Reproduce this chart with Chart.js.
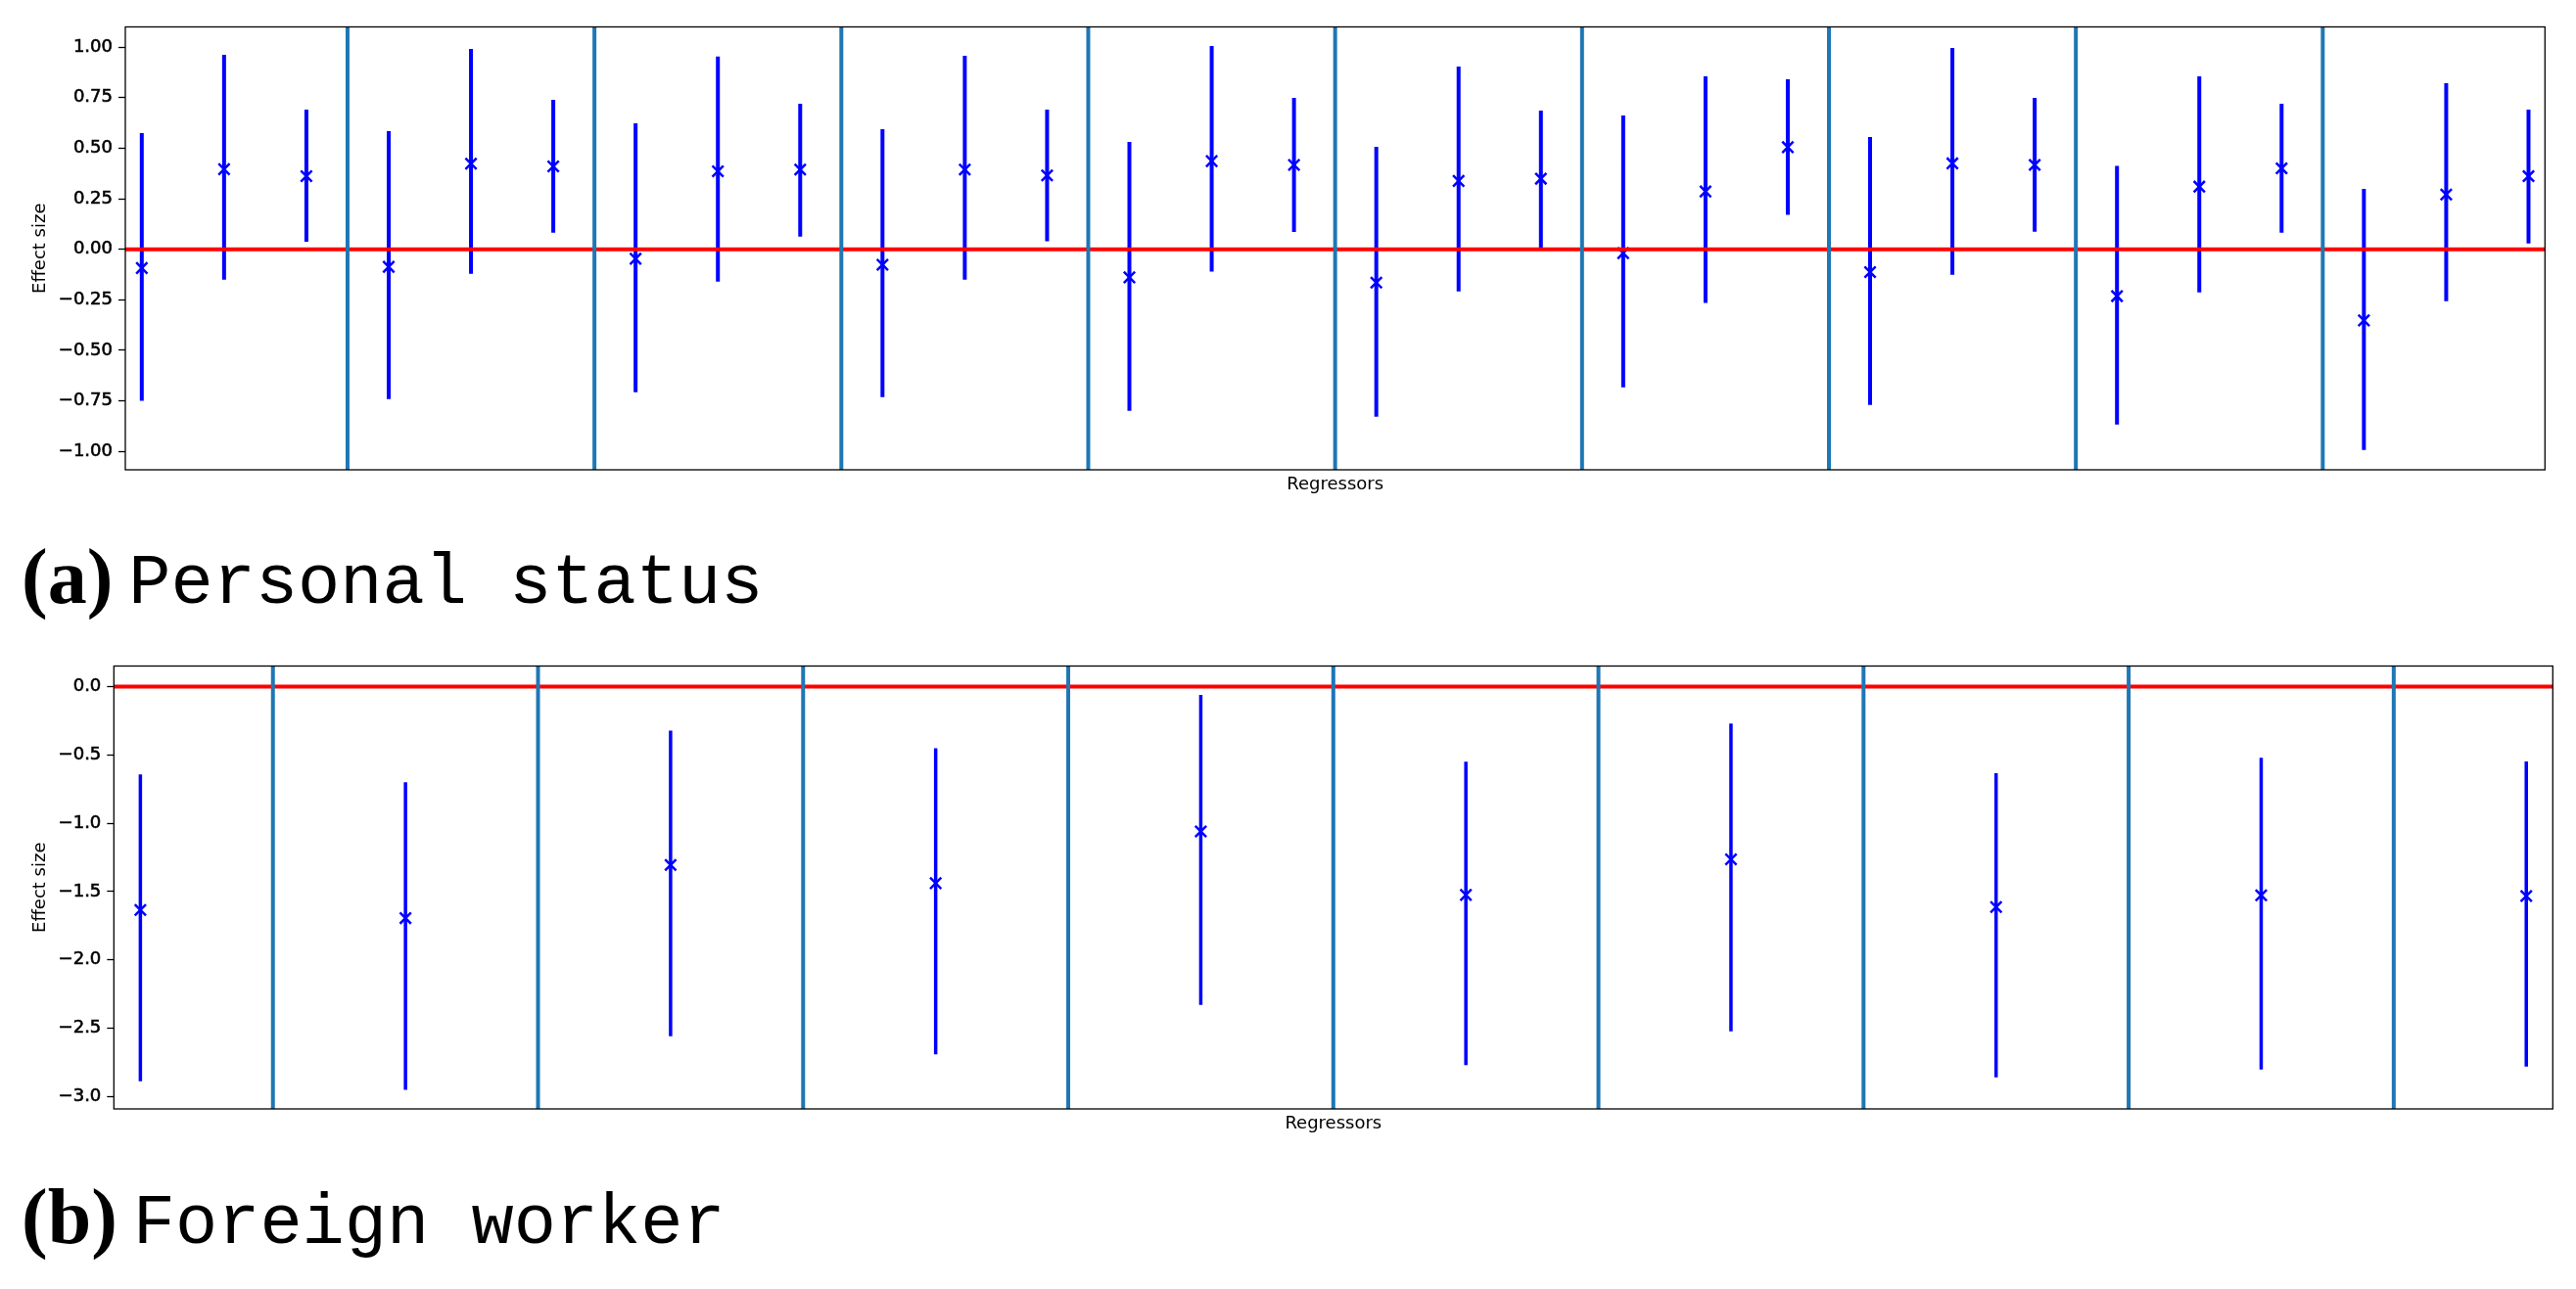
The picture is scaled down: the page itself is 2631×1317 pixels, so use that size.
<!DOCTYPE html>
<html>
<head>
<meta charset="utf-8">
<script src="https://cdn.jsdelivr.net/npm/chart.js@4.4.1/dist/chart.umd.min.js"></script>
<style>
  html, body { margin: 0; padding: 0; background: #fff; }
  body { width: 2631px; height: 1317px; position: relative; overflow: hidden; }
  .panel { position: absolute; left: 0; width: 2631px; height: 510px; }
  .caption { position: absolute; left: 22px; line-height: 100px; white-space: pre;
             font-family: "Liberation Mono", "DejaVu Sans Mono", monospace; font-size: 72px; color: #000; }
  .caption .tag { font-family: "Liberation Serif", "DejaVu Serif", serif; font-weight: bold; font-size: 80px; }
  .caption .name { margin-left: 16px; }
</style>
</head>
<body>
<div class="panel" style="top:0px"><canvas id="status"></canvas></div>
<div class="caption" style="top:539px"><span class="tag">(a)</span><span class="name">Personal status</span></div>
<div class="panel" style="top:653px"><canvas id="foreign"></canvas></div>
<div class="caption" style="top:1193px"><span class="tag">(b)</span><span class="name">Foreign worker</span></div>

<script>
// (a) Personal status: 10 groups of 3 regressors
const statusRegressors = [0, 1, 2, 3, 4, 5, 6, 7, 8, 9, 10, 11, 12, 13, 14, 15, 16, 17, 18, 19, 20, 21, 22, 23, 24, 25, 26, 27, 28, 29];
const statusMeans = [-0.093, 0.396, 0.362, -0.087, 0.423, 0.410, -0.047, 0.386, 0.394, -0.077,
                      0.394, 0.365, -0.139, 0.436, 0.417, -0.165, 0.338, 0.349, -0.019, 0.286,
                      0.505, -0.113, 0.425, 0.417, -0.232, 0.310, 0.400, -0.352, 0.271, 0.362];
const statusLower = [-0.750, -0.150, 0.037, -0.741, -0.121, 0.082, -0.707, -0.160, 0.063, -0.731,
                     -0.150, 0.039, -0.799, -0.111, 0.086, -0.828, -0.208, 0.007, -0.683, -0.266,
                     0.170, -0.770, -0.126, 0.087, -0.867, -0.213, 0.082, -0.993, -0.257, 0.029];
const statusUpper = [0.575, 0.962, 0.691, 0.584, 0.991, 0.739, 0.623, 0.953, 0.720, 0.594,
                     0.957, 0.691, 0.531, 1.006, 0.749, 0.507, 0.904, 0.686, 0.662, 0.856,
                     0.841, 0.555, 0.996, 0.749, 0.413, 0.856, 0.720, 0.299, 0.822, 0.691];
const statusDividers = [2.5, 5.5, 8.5, 11.5, 14.5, 17.5, 20.5, 23.5, 26.5];
const statusTicks = [-1, -0.75, -0.5, -0.25, 0, 0.25, 0.5, 0.75, 1];

// (b) Foreign worker: 10 groups of 1 regressor
const foreignRegressors = [0, 1, 2, 3, 4, 5, 6, 7, 8, 9];
const foreignMeans = [-1.635, -1.695, -1.306, -1.439, -1.060, -1.525, -1.265, -1.614, -1.528, -1.533];
const foreignLower = [-2.888, -2.952, -2.559, -2.692, -2.330, -2.771, -2.523, -2.860, -2.802, -2.781];
const foreignUpper = [-0.644, -0.700, -0.322, -0.451, -0.062, -0.551, -0.270, -0.635, -0.521, -0.549];
const foreignDividers = [0.5, 1.5, 2.5, 3.5, 4.5, 5.5, 6.5, 7.5, 8.5];
const foreignTicks = [-3, -2.5, -2, -1.5, -1, -0.5, 0];

const FONT = { family: "DejaVu Sans", size: 18 };

// black box round the plot area, like matplotlib spines
const frame = {
  id: "frame",
  afterDatasetsDraw(chart) {
    const { ctx, chartArea: a } = chart;
    ctx.save();
    ctx.strokeStyle = "#000";
    ctx.lineWidth = 1.3;
    ctx.strokeRect(a.left, a.top, a.right - a.left, a.bottom - a.top);
    ctx.restore();
  },
};

function segments(xs, lo, hi) {
  const pts = [];
  xs.forEach((x, i) => {
    pts.push({ x: x, y: lo[i] }, { x: x, y: hi[i] }, { x: x, y: null });
  });
  return pts;
}

function makeChart(id, p) {
  const ctx = document.getElementById(id).getContext("2d");
  return new Chart(ctx, {
    type: "scatter",
    data: {
      datasets: [
        {
          type: "line",
          data: segments(p.xs, p.lower, p.upper),
          borderColor: "#0000ff",
          borderWidth: p.barWidth,
          pointRadius: 0,
          spanGaps: false,
          order: 3,
        },
        {
          type: "scatter",
          data: p.xs.map((x, i) => ({ x: x, y: p.means[i] })),
          pointStyle: "crossRot",
          pointRadius: 8,
          pointBorderWidth: 2.5,
          borderColor: "#0000ff",
          backgroundColor: "#0000ff",
          order: 2,
        },
        {
          type: "line",
          data: [{ x: p.xMin, y: 0 }, { x: p.xMax, y: 0 }],
          borderColor: "#ff0000",
          borderWidth: 4,
          pointRadius: 0,
          order: 1,
        },
        {
          type: "line",
          data: segments(p.dividers, p.dividers.map(() => p.yMin), p.dividers.map(() => p.yMax)),
          borderColor: "#1f77b4",
          borderWidth: 4,
          pointRadius: 0,
          spanGaps: false,
          order: 0,
        },
      ],
    },
    options: {
      responsive: true,
      maintainAspectRatio: false,
      animation: false,
      devicePixelRatio: 1,
      layout: { padding: { left: 0, right: p.padRight, top: 27.5, bottom: 0 } },
      plugins: { legend: { display: false }, tooltip: { enabled: false } },
      scales: {
        x: {
          type: "linear",
          min: p.xMin,
          max: p.xMax,
          ticks: { display: false },
          grid: { display: false },
          border: { display: false },
          afterFit: (axis) => { axis.height = 30; },
          title: { display: true, text: "Regressors", color: "#000", font: FONT, padding: { top: 0, bottom: 4 } },
        },
        y: {
          type: "linear",
          min: p.yMin,
          max: p.yMax,
          afterBuildTicks: (axis) => { axis.ticks = p.ticks.map((v) => ({ value: v })); },
          afterFit: (axis) => { axis.width = p.yWidth; },
          ticks: {
            color: "#000",
            font: FONT,
            padding: 6,
            textStrokeColor: "#000",
            textStrokeWidth: 0.6,
            callback: (v) => v.toFixed(p.decimals).replace("-", "\u2212"),
          },
          grid: { drawOnChartArea: false, drawTicks: true, tickLength: 7, tickColor: "#000", tickWidth: 1.3 },
          border: { display: false },
          title: { display: true, text: "Effect size", color: "#000", font: FONT, padding: { top: 31, bottom: 0 } },
        },
      },
    },
    plugins: [frame],
  });
}

makeChart("status", {
  xs: statusRegressors, means: statusMeans, lower: statusLower, upper: statusUpper,
  dividers: statusDividers, ticks: statusTicks, decimals: 2, barWidth: 4,
  xMin: -0.2, xMax: 29.2, yMin: -1.091, yMax: 1.100, yWidth: 128, padRight: 31.7,
});

makeChart("foreign", {
  xs: foreignRegressors, means: foreignMeans, lower: foreignLower, upper: foreignUpper,
  dividers: foreignDividers, ticks: foreignTicks, decimals: 1, barWidth: 3.5,
  xMin: -0.1, xMax: 9.1, yMin: -3.091, yMax: 0.150, yWidth: 116.3, padRight: 23.7,
});
</script>
</body>
</html>
